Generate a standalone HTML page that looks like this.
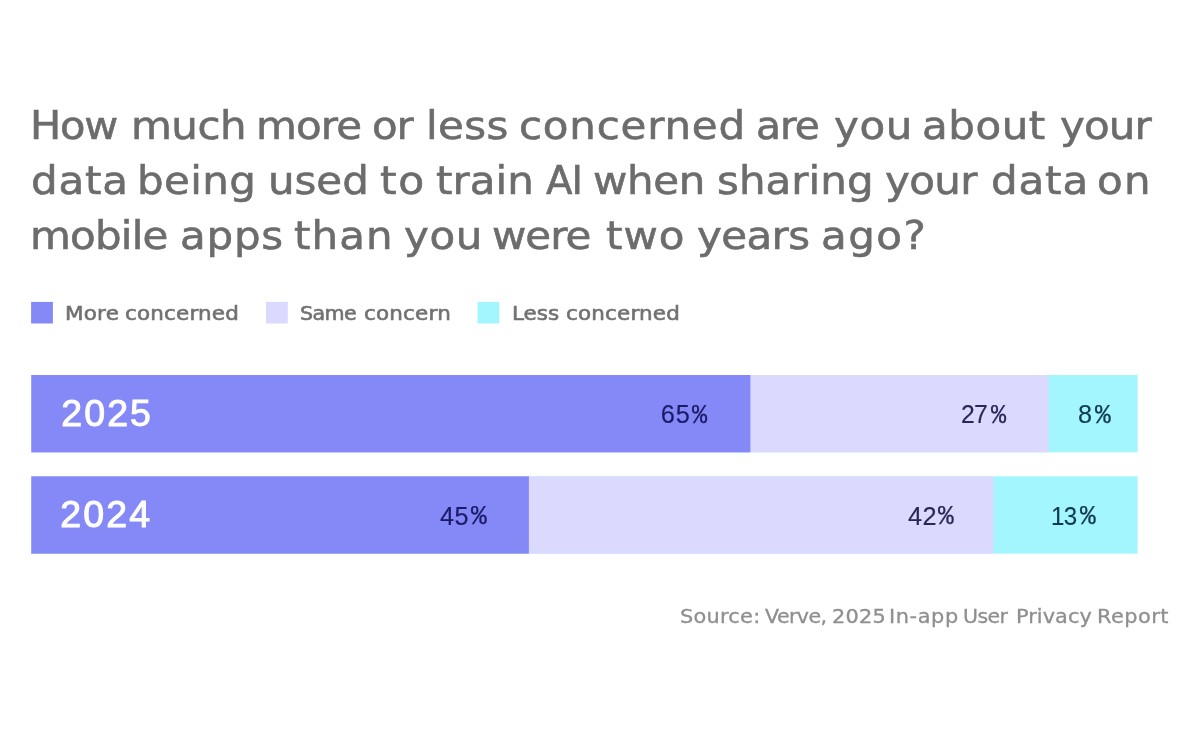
<!DOCTYPE html>
<html lang="en">
<head>
<meta charset="utf-8">
<title>AI data concern chart</title>
<style>
html,body{margin:0;padding:0;background:#fff;}
body{width:1200px;height:750px;position:relative;overflow:hidden;font-family:"Liberation Sans","DejaVu Sans",sans-serif;}
h1,p,div{margin:0;padding:0;font-weight:normal;}
.w{position:absolute;display:inline-block;white-space:nowrap;line-height:1;transform-origin:0 0;}
.tt{font-family:"DejaVu Sans","Liberation Sans",sans-serif;font-size:39.2px;color:#6c6c6c;-webkit-text-stroke:0.6px #6c6c6c;}
.lg{font-family:"DejaVu Sans","Liberation Sans",sans-serif;font-size:19.2px;color:#717171;-webkit-text-stroke:0.6px #717171;}
.sr{font-family:"DejaVu Sans","Liberation Sans",sans-serif;font-size:18.9px;color:#8f8f8f;-webkit-text-stroke:0.3px #8f8f8f;}
.yr{font-family:"Liberation Sans","DejaVu Sans",sans-serif;font-size:37.5px;color:#fff;-webkit-text-stroke:1.0px #fff;}
.pc{font-family:"Liberation Sans","DejaVu Sans",sans-serif;font-size:25.3px;-webkit-text-stroke-width:0.15px;}
.pm{font-family:"Liberation Mono","Liberation Sans",monospace;font-size:27.0px;-webkit-text-stroke-width:0.25px;}
.bg{position:absolute;left:0;top:0;display:block;}
#page{position:absolute;left:0;top:0;width:1200px;height:750px;background:#fff;}
</style>
</head>
<body>
<div id="page">
<h1>
<span class="w tt" style="left:29.55px;top:106.3px;letter-spacing:-1.098px;transform:scaleX(1.0598)">How</span> <span class="w tt" style="left:130.8px;top:106.3px;letter-spacing:-0.529px;transform:scaleX(1.0716)">much</span> <span class="w tt" style="left:255.8px;top:106.3px;letter-spacing:-0.862px;transform:scaleX(1.0716)">more</span> <span class="w tt" style="left:371.8px;top:106.3px;letter-spacing:-1.098px;transform:scaleX(1.0682)">or</span> <span class="w tt" style="left:425.7px;top:106.3px;letter-spacing:0.356px;transform:scaleX(1.0716)">less</span> <span class="w tt" style="left:518.8px;top:106.3px;letter-spacing:0.713px;transform:scaleX(1.0716)">concerned</span> <span class="w tt" style="left:755.5px;top:106.3px;letter-spacing:-1.098px;transform:scaleX(1.044)">are</span> <span class="w tt" style="left:834.04px;top:106.3px;letter-spacing:0.521px;transform:scaleX(1.0716)">you</span> <span class="w tt" style="left:922.3px;top:106.3px;letter-spacing:0.498px;transform:scaleX(1.0716)">about</span> <span class="w tt" style="left:1060.34px;top:106.3px;letter-spacing:-0.836px;transform:scaleX(1.0716)">your</span>
<span class="w tt" style="left:31.3px;top:161.3px;letter-spacing:0.747px;transform:scaleX(1.0716)">data</span> <span class="w tt" style="left:137.0px;top:161.3px;letter-spacing:0.363px;transform:scaleX(1.0716)">being</span> <span class="w tt" style="left:268.3px;top:161.3px;letter-spacing:-0.061px;transform:scaleX(1.0716)">used</span> <span class="w tt" style="left:379.69px;top:161.3px;letter-spacing:1.568px;transform:scaleX(1.0826)">to</span> <span class="w tt" style="left:436.2px;top:161.3px;letter-spacing:0.045px;transform:scaleX(1.0716)">train</span> <span class="w tt" style="left:546.32px;top:161.3px;letter-spacing:-1.098px;transform:scaleX(0.987)">AI</span> <span class="w tt" style="left:593.49px;top:161.3px;letter-spacing:-0.334px;transform:scaleX(1.0716)">when</span> <span class="w tt" style="left:716.85px;top:161.3px;letter-spacing:0.024px;transform:scaleX(1.0716)">sharing</span> <span class="w tt" style="left:885.34px;top:161.3px;letter-spacing:-0.622px;transform:scaleX(1.0716)">your</span> <span class="w tt" style="left:990.5px;top:161.3px;letter-spacing:0.809px;transform:scaleX(1.0716)">data</span> <span class="w tt" style="left:1096.8px;top:161.3px;letter-spacing:1.211px;transform:scaleX(1.0716)">on</span>
<span class="w tt" style="left:30.3px;top:216.2px;letter-spacing:-0.76px;transform:scaleX(1.0716)">mobile</span> <span class="w tt" style="left:180.0px;top:216.2px;letter-spacing:0.695px;transform:scaleX(1.0716)">apps</span> <span class="w tt" style="left:294.2px;top:216.2px;letter-spacing:0.971px;transform:scaleX(1.0716)">than</span> <span class="w tt" style="left:404.04px;top:216.2px;letter-spacing:0.521px;transform:scaleX(1.0716)">you</span> <span class="w tt" style="left:492.29px;top:216.2px;letter-spacing:-0.948px;transform:scaleX(1.0716)">were</span> <span class="w tt" style="left:605.5px;top:216.2px;letter-spacing:0.95px;transform:scaleX(1.0716)">two</span> <span class="w tt" style="left:696.54px;top:216.2px;letter-spacing:-0.559px;transform:scaleX(1.0716)">years</span> <span class="w tt" style="left:820.5px;top:216.2px;letter-spacing:1.369px;transform:scaleX(1.0716)">ago?</span>
</h1>
<div>
<svg class="bg" width="1200" height="750" viewBox="0 0 1200 750" aria-hidden="true"><rect x="31.1" y="301.9" width="21.8" height="21.6" fill="#8589f8"/></svg>
<span class="w lg" style="left:65.42px;top:304.0px;letter-spacing:0.201px;transform:scaleX(1.1183)">More</span> <span class="w lg" style="left:124.61px;top:304.0px;letter-spacing:0.155px;transform:scaleX(1.1183)">concerned</span>
<svg class="bg" width="1200" height="750" viewBox="0 0 1200 750" aria-hidden="true"><rect x="266.0" y="301.9" width="21.8" height="21.6" fill="#dbd9fe"/></svg>
<span class="w lg" style="left:300.4px;top:304.0px;letter-spacing:-0.538px;transform:scaleX(1.074)">Same</span> <span class="w lg" style="left:363.81px;top:304.0px;letter-spacing:0.174px;transform:scaleX(1.1183)">concern</span>
<svg class="bg" width="1200" height="750" viewBox="0 0 1200 750" aria-hidden="true"><rect x="477.5" y="301.9" width="21.8" height="21.6" fill="#a3f5fe"/></svg>
<span class="w lg" style="left:511.82px;top:304.0px;letter-spacing:-0.021px;transform:scaleX(1.1183)">Less</span> <span class="w lg" style="left:565.51px;top:304.0px;letter-spacing:0.155px;transform:scaleX(1.1183)">concerned</span>
</div>
<div>
<svg class="bg" width="1200" height="750" viewBox="0 0 1200 750" aria-hidden="true"><rect x="31.3" y="375.0" width="1106.3" height="77.35" fill="#a3f5fe"/><rect x="31.3" y="375.0" width="1017.3" height="77.35" fill="#dbd9fe"/><rect x="31.3" y="375.0" width="719.1" height="77.35" fill="#8589f8"/></svg>
<span class="w yr" style="left:61.3px;top:395.25px;letter-spacing:2.06px">2025</span>
<span class="w pc" style="left:660.7px;top:401.85px;letter-spacing:0.961px;color:#1a1a66;-webkit-text-stroke-color:#1a1a66">65</span><span class="w pm" style="left:692.38px;top:402.72px;transform:scaleX(0.9303);color:#1a1a66;-webkit-text-stroke-color:#1a1a66">%</span>
<span class="w pc" style="left:961.3px;top:401.85px;letter-spacing:-0.708px;transform:scaleX(0.9781);color:#2a2858;-webkit-text-stroke-color:#2a2858">27</span><span class="w pm" style="left:991.38px;top:402.72px;transform:scaleX(0.9303);color:#2a2858;-webkit-text-stroke-color:#2a2858">%</span>
<span class="w pc" style="left:1078.0px;top:401.85px;transform:scaleX(0.9993);color:#123a52;-webkit-text-stroke-color:#123a52">8</span><span class="w pm" style="left:1094.78px;top:402.72px;transform:scaleX(0.9658);color:#123a52;-webkit-text-stroke-color:#123a52">%</span>
</div>
<div>
<svg class="bg" width="1200" height="750" viewBox="0 0 1200 750" aria-hidden="true"><rect x="31.3" y="476.35" width="1106.3" height="77.3" fill="#a3f5fe"/><rect x="31.3" y="476.35" width="962.1" height="77.3" fill="#dbd9fe"/><rect x="31.3" y="476.35" width="497.6" height="77.3" fill="#8589f8"/></svg>
<span class="w yr" style="left:60.25px;top:496.35px;letter-spacing:2.15px">2024</span>
<span class="w pc" style="left:440.0px;top:503.5px;letter-spacing:0.38px;color:#1a1a66;-webkit-text-stroke-color:#1a1a66">45</span><span class="w pm" style="left:470.78px;top:504.37px;transform:scaleX(0.9658);color:#1a1a66;-webkit-text-stroke-color:#1a1a66">%</span>
<span class="w pc" style="left:908.0px;top:503.5px;letter-spacing:0.4px;color:#2a2858;-webkit-text-stroke-color:#2a2858">42</span><span class="w pm" style="left:938.38px;top:504.37px;transform:scaleX(0.9658);color:#2a2858;-webkit-text-stroke-color:#2a2858">%</span>
<span class="w pc" style="left:1050.61px;top:503.5px;letter-spacing:-0.708px;transform:scaleX(0.9527);color:#123a52;-webkit-text-stroke-color:#123a52">13</span><span class="w pm" style="left:1079.78px;top:504.37px;transform:scaleX(0.9658);color:#123a52;-webkit-text-stroke-color:#123a52">%</span>
</div>
<p>
<span class="w sr" style="left:680.3px;top:607.0px;letter-spacing:0.211px;transform:scaleX(1.1056)">Source:</span> <span class="w sr" style="left:765.2px;top:607.0px;letter-spacing:-0.529px;transform:scaleX(1.0887)">Verve,</span> <span class="w sr" style="left:832.0px;top:607.0px;letter-spacing:0.162px;transform:scaleX(1.1056)">2025</span> <span class="w sr" style="left:888.91px;top:607.0px;letter-spacing:0.524px;transform:scaleX(1.1056)">In-app</span> <span class="w sr" style="left:963.28px;top:607.0px;letter-spacing:-0.529px;transform:scaleX(1.0854)">User</span> <span class="w sr" style="left:1015.61px;top:607.0px;letter-spacing:0.022px;transform:scaleX(1.1056)">Privacy</span> <span class="w sr" style="left:1096.81px;top:607.0px;letter-spacing:0.411px;transform:scaleX(1.1056)">Report</span>
</p>
</div>
</body>
</html>
